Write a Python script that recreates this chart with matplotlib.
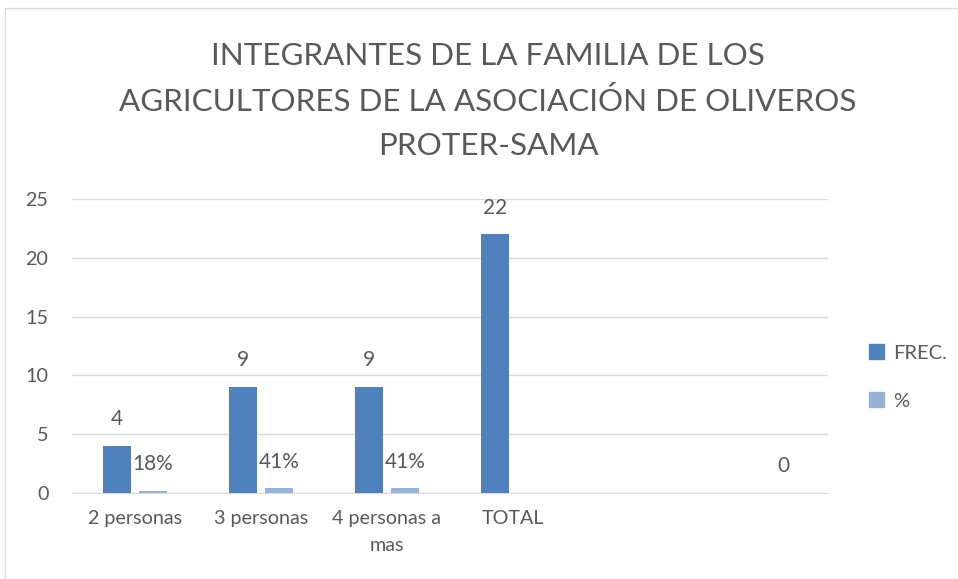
import matplotlib
matplotlib.use("Agg")
import matplotlib.pyplot as plt
import numpy as np
from matplotlib.patches import Rectangle, Patch

categories = ["2 personas", "3 personas", "4 personas a\nmas", "TOTAL", "", ""]
frec = [4, 9, 9, 22, None, None]
pct = [0.18, 0.41, 0.41, None, None, 0]
pct_labels = ["18%", "41%", "41%", None, None, "0"]
frec_labels = ["4", "9", "9", "22", None, None]

plt.rcParams['font.family'] = ['Lato', 'DejaVu Sans']
TXT = '#595959'
C1 = '#4f81bd'
C2 = '#95b3d7'

fig = plt.figure(figsize=(9.58, 5.79), dpi=100)
fig.patches.append(Rectangle((5/958, 0), 1 - 5/958, 1 - 8/579, transform=fig.transFigure,
                             fill=False, edgecolor='#d9d9d9', linewidth=1))
ax = fig.add_axes([72/958, 1 - 493/579, (828 - 72)/958, (493 - 199)/579])

x = np.arange(len(categories))
w = 0.222
off = 0.143
for i in range(len(categories)):
    if frec[i] is not None:
        ax.bar(x[i] - off, frec[i], w, color=C1, zorder=3)
        ax.annotate(frec_labels[i], (x[i] - off, frec[i]), xytext=(0, 12), textcoords='offset points',
                    ha='center', va='bottom', fontsize=15, color=TXT)
    if pct[i] is not None:
        ax.bar(x[i] + off, pct[i], w, color=C2, zorder=3)
        ax.annotate(pct_labels[i], (x[i] + off, pct[i]), xytext=(0, 12), textcoords='offset points',
                    ha='center', va='bottom', fontsize=15, color=TXT)

ax.set_xlim(-0.5, len(categories) - 0.5)
ax.set_ylim(0, 25)
ax.set_yticks([0, 5, 10, 15, 20, 25])
ax.set_xticks(x)
ax.set_xticklabels(categories, fontsize=14.2, color=TXT, linespacing=1.75)
ax.tick_params(axis='y', labelsize=14.2, colors=TXT, length=0, pad=17)
ax.tick_params(axis='x', length=0, pad=12)
ax.grid(axis='y', color='#d9d9d9', linewidth=1, zorder=0)
for s in ['top', 'right', 'left']:
    ax.spines[s].set_visible(False)
ax.spines['bottom'].set_color('#d9d9d9')

fig.text(488/958, 1 - 101/579,
         "INTEGRANTES DE LA FAMILIA DE LOS\nAGRICULTORES DE LA ASOCIACIÓN DE OLIVEROS\nPROTER-SAMA",
         ha='center', va='center', fontsize=22.6, color=TXT, linespacing=1.7)

fig.legend(handles=[Patch(color=C1, label='FREC.'), Patch(color=C2, label='%')],
           loc='center left', bbox_to_anchor=(851/958, 1 - 377/579), frameon=False,
           fontsize=14.5, labelcolor=TXT, handlelength=0.75, handleheight=0.75,
           labelspacing=1.5, handletextpad=0.45)

fig.savefig('out.png', dpi=100)
